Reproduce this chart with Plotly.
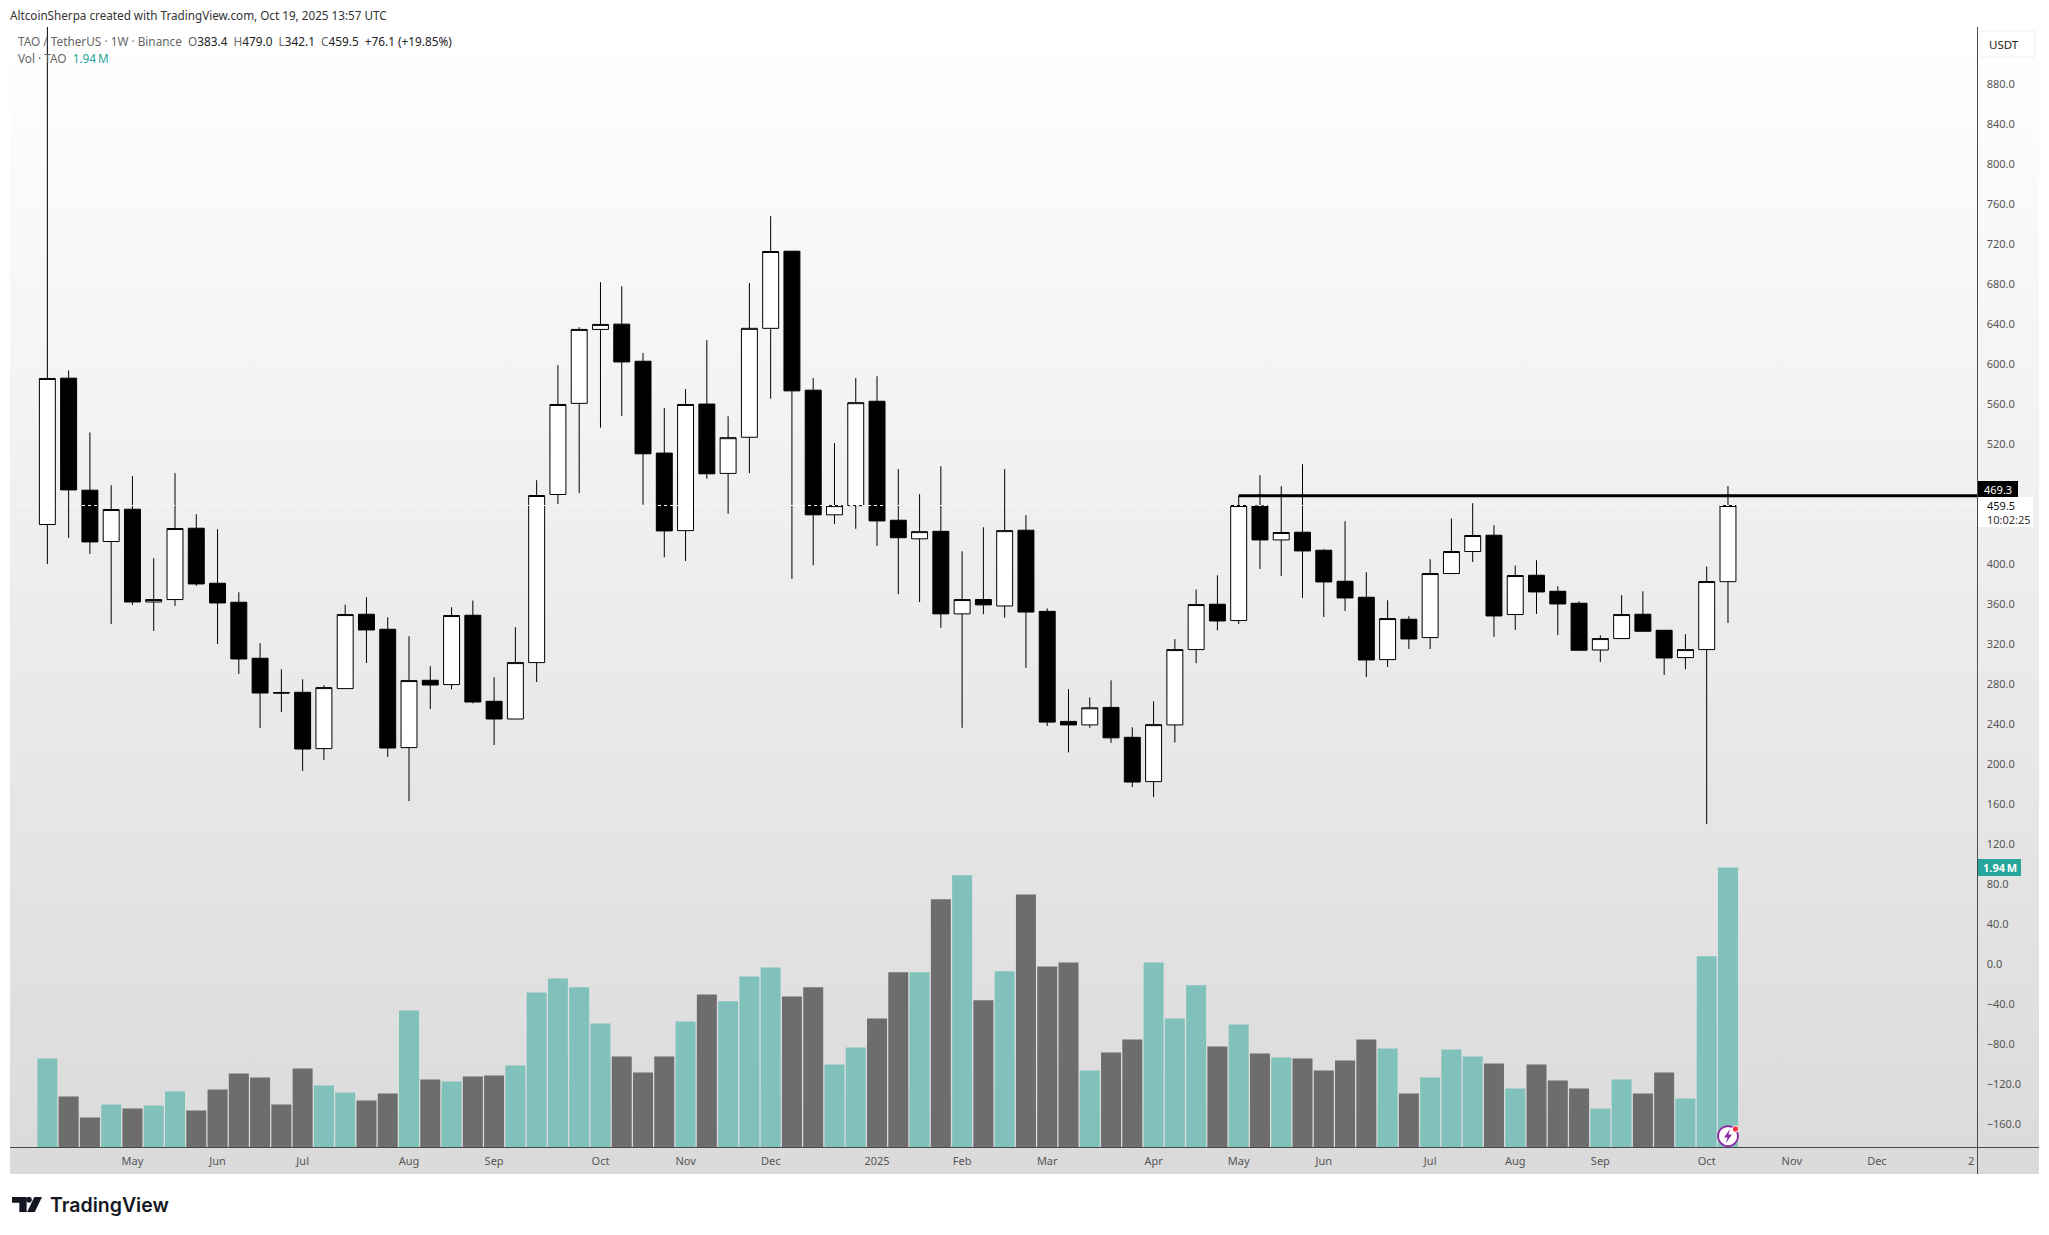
import base64
import pandas as pd
import plotly.graph_objects as go

W, H = 2049, 1235

# ---- data ----
first_week = "2024-04-08"
opens = [440.5,586.8,474.8,423.5,455.8,363.1,365.5,436.8,381.8,362.8,306.8,272.5,272.8,216.5,276.5,350.8,335.8,217.5,284.8,280.5,
         349.8,263.8,246.1,302.5,470.5,561.6,635.5,640.8,603.7,511.9,434.4,560.9,491.6,527.7,636.6,713.7,574.8,450.2,459.4,563.7,
         444.8,426.2,433.7,351.2,365.5,359.1,434.8,353.7,243.7,240.2,257.7,227.8,183.5,240.2,315.5,360.8,344.5,459.1,425.1,432.8,
         414.8,383.8,367.8,305.5,345.8,327.5,391.5,413.5,429.8,350.5,389.8,373.8,361.8,315.1,326.5,350.8,334.8,307.5,315.5,383.4]
highs = [1000.0,594.5,532.5,479.8,488.8,406.8,491.8,450.8,435.8,372.8,321.8,295.8,285.8,279.8,360.5,367.8,347.8,328.8,298.8,357.8,
         364.5,287.8,337.8,484.8,599.8,637.7,682.7,678.7,611.9,556.9,575.9,624.8,548.7,681.9,748.7,713.7,586.9,521.9,586.9,588.7,
         495.9,470.9,498.7,413.7,437.7,495.9,449.8,356.6,275.9,267.7,284.8,237.8,263.8,325.9,375.5,389.8,469.3,489.8,478.8,500.8,
         415.8,443.8,392.8,364.8,348.8,405.8,446.5,461.8,439.8,399.5,404.8,378.8,363.8,329.8,369.8,373.8,334.8,330.8,398.5,479.0]
lows = [401.0,427.1,411.1,341.1,360.1,334.1,359.1,379.1,321.1,291.1,237.1,253.1,194.1,205.1,276.5,302.1,208.1,164.1,256.1,275.8,
        261.8,220.1,246.1,283.1,461.1,471.9,537.3,549.1,460.2,407.7,404.1,486.2,451.2,491.9,566.2,386.2,399.8,440.9,436.2,419.1,
        370.9,363.0,337.3,237.3,350.9,347.3,297.3,239.1,212.7,237.3,222.3,178.1,168.1,222.7,301.9,334.8,341.1,396.1,389.1,367.1,
        348.1,354.1,288.1,298.1,316.1,316.1,391.5,403.1,328.1,335.1,351.1,330.1,314.8,303.1,326.5,333.8,290.1,295.8,141.1,342.1]
closes = [586.5,475.1,423.1,455.5,363.1,365.5,436.5,381.1,362.1,306.1,272.1,272.1,216.1,277.5,350.5,335.1,217.1,284.5,280.1,349.5,
          263.1,246.1,302.5,469.5,560.5,635.5,640.5,603.0,511.2,434.1,560.5,491.2,527.3,636.6,713.4,574.1,450.2,459.4,562.3,444.1,
          427.3,433.4,351.2,365.5,360.2,434.4,353.0,243.0,240.2,257.3,227.3,183.1,240.5,315.5,360.5,344.1,459.5,425.1,432.5,414.1,
          383.1,367.1,305.1,346.5,326.1,391.5,413.5,429.5,349.1,389.5,373.1,361.1,314.8,326.5,350.5,333.8,307.1,315.5,383.5,459.5]
volumes_k = [617,353,208,298,270,291,388,256,402,513,485,298,547,430,381,326,374,949,471,457,
             492,499,568,1074,1171,1109,859,631,520,631,873,1060,1012,1185,1247,1046,1109,575,693,894,
             1213,1213,1719,1885,1019,1220,1753,1254,1282,534,658,748,1282,894,1123,700,852,651,624,617,
             534,603,748,686,374,485,679,631,582,409,575,464,409,270,471,374,520,340,1324,1940]
tick_dates = ["2024-05-06","2024-06-03","2024-07-01","2024-08-05","2024-09-02","2024-10-07","2024-11-04","2024-12-02",
              "2025-01-06","2025-02-03","2025-03-03","2025-04-07","2025-05-05","2025-06-02","2025-07-07","2025-08-04",
              "2025-09-01","2025-10-06","2025-11-03","2025-12-01","2026-01-01"]
tick_labels = ["May","Jun","Jul","Aug","Sep","Oct","Nov","Dec","2025","Feb","Mar","Apr","May","Jun","Jul","Aug","Sep","Oct","Nov","Dec","2"]
price_ticks = [880,840,800,760,720,680,640,600,560,520,400,360,320,280,240,200,160,120,80,40,0,-40,-80,-120,-160]
level_start = "2025-05-05"
level_price = 469.3
last_close = 459.5

dates = pd.date_range(first_week, periods=len(opens), freq="7D")

INK = "#000000"
TEAL = "#80C2BB"
GRAY = "#6D6D6D"
TAG_TEAL = "#26A69A"
AX = "#4a4a4a"
TXT = "#555555"
FONT = "Noto Sans"
vol_colors = [TEAL if c >= o else GRAY for o, c in zip(opens, closes)]


def fx(px):
    return px / W


def fy(py):
    return 1 - py / H


def svg_uri(svg):
    return "data:image/svg+xml;base64," + base64.b64encode(svg.encode()).decode()


gradient_svg = ('<svg xmlns="http://www.w3.org/2000/svg" width="100" height="100" preserveAspectRatio="none">'
                '<defs><linearGradient id="g" x1="0" y1="0" x2="0" y2="1"><stop offset="0" stop-color="#ffffff"/>'
                '<stop offset="1" stop-color="#dadada"/></linearGradient></defs>'
                '<rect width="100" height="100" fill="url(#g)"/></svg>')
logo_svg = ('<svg xmlns="http://www.w3.org/2000/svg" viewBox="0 0 90 46" width="90" height="46">'
            '<path d="M0 0H44V46H22V17H0Z" fill="#131722"/><circle cx="51" cy="8" r="8.5" fill="#131722"/>'
            '<path d="M67 0H90L68 46H45Z" fill="#131722"/></svg>')
bolt_svg = ('<svg xmlns="http://www.w3.org/2000/svg" viewBox="0 0 48 48" width="48" height="48">'
            '<circle cx="22" cy="26" r="20" fill="#ffffff" stroke="#8E2CA8" stroke-width="3.5"/>'
            '<path d="M26 12L14 29H21L18 40L30 23H23Z" fill="#8E2CA8"/>'
            '<circle cx="37" cy="12" r="6.5" fill="#F23645" stroke="#ffffff" stroke-width="2"/></svg>')

fig = go.Figure()
fig.add_trace(go.Candlestick(
    x=dates, open=opens, high=highs, low=lows, close=closes, yaxis="y", xaxis="x",
    increasing=dict(fillcolor="#ffffff", line=dict(color=INK, width=1)),
    decreasing=dict(fillcolor=INK, line=dict(color=INK, width=1)),
    whiskerwidth=0, showlegend=False, hoverinfo="skip"))
fig.add_trace(go.Bar(x=dates, y=volumes_k, yaxis="y2", xaxis="x", marker=dict(color=vol_colors, line=dict(width=0)),
                     showlegend=False, hoverinfo="skip"))


def ann(text, px, py, size=11, color=TXT, xanchor="left", **kw):
    return dict(text=text, xref="paper", yref="paper", x=fx(px), y=fy(py), xanchor=xanchor, yanchor="middle",
                showarrow=False, font=dict(family=FONT, size=size, color=color), **kw)


def sp(t, c):
    return f'<span style="color:{c}">{t}</span>'


V = "#222222"
L = "#666666"
ohlc_line = (sp("TAO / TetherUS · 1W · Binance&nbsp;&nbsp;O", L) + sp("383.4", V) + sp("&nbsp;&nbsp;H", L) + sp("479.0", V)
             + sp("&nbsp;&nbsp;L", L) + sp("342.1", V) + sp("&nbsp;&nbsp;C", L) + sp("459.5", V)
             + sp("&nbsp;&nbsp;+76.1 (+19.85%)", V))
vol_line = sp("Vol · TAO&nbsp;&nbsp;", L) + sp("1.94\u2009M", TAG_TEAL)

annotations = [
    ann("AltcoinSherpa created with TradingView.com, Oct 19, 2025 13:57 UTC", 8, 15, size=11.7, color="#333333"),
    ann(ohlc_line, 16, 41, size=11.8),
    ann(vol_line, 16, 58, size=11.8),
    ann("USDT", 2004, 44, size=11.5, color="#222222", xanchor="center"),
    ann("TradingView", 48, 1205, size=19.5, color="#131722"),
    ann("469.3", 1998, 489, size=11, color="#ffffff", xanchor="center"),
    ann("459.5", 1985, 506, size=11, color="#111111"),
    ann("10:02:25", 1985, 519, size=11, color="#333333"),
    ann("<b>1.94\u2009M</b>", 1999.5, 867.5, size=11, color="#ffffff", xanchor="center"),
]
annotations[4]["font"] = dict(family="Inter", size=19.5, color="#131722", weight=600)


def rect(x0, y0, x1, y1, fill, line=None, layer="above"):
    return dict(type="rect", xref="paper", yref="paper", x0=fx(x0), x1=fx(x1), y0=fy(y0), y1=fy(y1),
                fillcolor=fill, line=dict(width=1 if line else 0, color=line or fill), layer=layer)


def pline(x0, y0, x1, y1, color=AX, width=1):
    return dict(type="line", xref="paper", yref="paper", x0=fx(x0), x1=fx(x1), y0=fy(y0), y1=fy(y1),
                line=dict(color=color, width=width), layer="above")


x_left, x_right = "2024-03-26 17:00", "2026-01-03 02:30"
shapes = [
    dict(type="line", xref="x", yref="y", x0=x_left, x1=x_right, y0=last_close, y1=last_close,
         line=dict(color="#ffffff", width=1, dash="dot"), layer="above"),
    dict(type="line", xref="x", yref="y", x0=level_start, x1=x_right, y0=level_price, y1=level_price,
         line=dict(color="#000000", width=3), layer="above"),
    pline(1977.5, 27, 1977.5, 1174),
    pline(10, 1147.5, 2039, 1147.5),
    rect(1981, 31, 2035, 57, "rgba(255,255,255,0.35)", "#f1f1f1"),
    rect(1978, 481, 2018, 497, "#000000"),
    rect(1978, 497, 2033, 527, "#ffffff"),
    rect(1978, 859, 2021, 876, TAG_TEAL),
]

images = [
    dict(source=svg_uri(gradient_svg), xref="paper", yref="paper", x=fx(10), y=fy(27), sizex=fx(2039) - fx(10),
         sizey=fy(27) - fy(1174), xanchor="left", yanchor="top", sizing="stretch", layer="below"),
    dict(source=svg_uri(logo_svg), xref="paper", yref="paper", x=fx(12), y=fy(1197), sizex=30 / W, sizey=15.3 / H,
         xanchor="left", yanchor="top", sizing="stretch", layer="above"),
    dict(source=svg_uri(bolt_svg), xref="paper", yref="paper", x=fx(1717), y=fy(1123), sizex=24 / W, sizey=24 / H,
         xanchor="left", yanchor="top", sizing="stretch", layer="above"),
]

fig.update_layout(
    width=W, height=H, margin=dict(l=0, r=0, t=0, b=0, pad=0),
    paper_bgcolor="#ffffff", plot_bgcolor="rgba(0,0,0,0)",
    boxgap=0.25, boxgroupgap=0, bargap=0.06, showlegend=False,
    font=dict(family=FONT, size=11, color=TXT),
    xaxis=dict(domain=[fx(10), fx(1977.5)], range=[x_left, x_right], type="date", rangeslider=dict(visible=False),
               showgrid=False, zeroline=False, showline=False, tickmode="array", tickvals=tick_dates,
               ticktext=tick_labels, ticks="outside", ticklen=3, tickcolor="rgba(0,0,0,0)",
               tickfont=dict(family=FONT, size=11, color=TXT), anchor="y"),
    yaxis=dict(domain=[fy(1147.5), fy(27)], range=[-182.2, 937.8], side="right", showgrid=False, zeroline=False,
               showline=False, tickmode="array", tickvals=price_ticks,
               ticktext=[f"{v:.1f}".replace("-", "\u2212") for v in price_ticks], ticks="outside", ticklen=6,
               tickcolor="rgba(0,0,0,0)", ticklabelshift=-1, tickfont=dict(family=FONT, size=11, color=TXT), anchor="x"),
    yaxis2=dict(overlaying="y", range=[0, 7760], visible=False, side="left"),
    annotations=annotations, shapes=shapes, images=images,
)

fig.write_html("out.html", config=dict(displayModeBar=False),
               post_script="document.body.style.margin='0';document.documentElement.style.overflow='hidden';")
